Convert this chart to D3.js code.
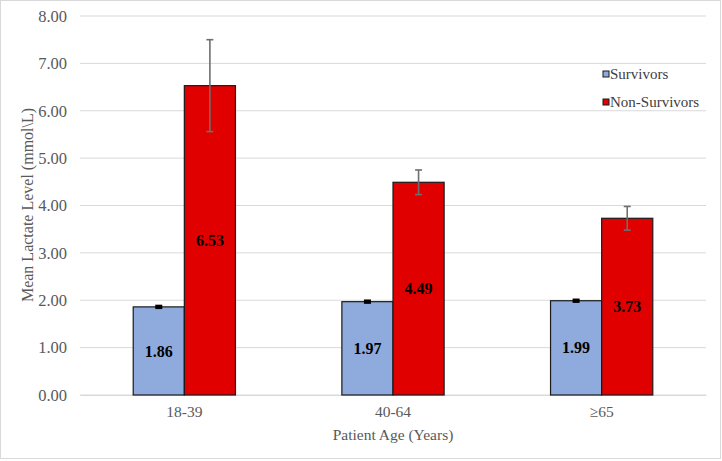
<!DOCTYPE html>
<html><head><meta charset="utf-8">
<script src="https://cdn.jsdelivr.net/npm/d3@7"></script>
<style>body{margin:0;background:#fff}svg{display:block}</style>
</head><body>
<svg id="c" width="722" height="461"></svg>
<script>
const categories = ["18-39", "40-64", "≥65"];
const seriesNames = ["Survivors", "Non-Survivors"];
const survivors = [1.86, 1.97, 1.99];
const nonSurvivors = [6.53, 4.49, 3.73];
const survivorsErr = [0.02, 0.02, 0.02];
const nonSurvivorsErr = [0.97, 0.26, 0.25];
const yTicks = [0, 1, 2, 3, 4, 5, 6, 7, 8];
const colors = ["#8faadc", "#e00000"];

const svg = d3.select("#c");
const font = "Liberation Serif, Times New Roman, serif";
svg.append("rect").attr("x",0.5).attr("y",0.5).attr("width",720).attr("height",458)
  .attr("fill","#fff").attr("stroke","#d9d9d9");

const m = {l:80, r:706, t:16, b:395};
const y = d3.scaleLinear().domain([0,8]).range([m.b, m.t]);
const x0 = d3.scaleBand().domain(categories).range([m.l, m.r]).paddingInner(0.51).paddingOuter(0.255);
const x1 = d3.scaleBand().domain(seriesNames).range([0, x0.bandwidth()]);

// gridlines
svg.append("g").selectAll("line").data(yTicks).join("line")
  .attr("x1",m.l).attr("x2",m.r).attr("y1",d=>y(d)).attr("y2",d=>y(d))
  .attr("stroke","#d9d9d9").attr("stroke-width",1);

// y axis labels
const ya = svg.append("g").attr("transform",`translate(${m.l},0)`)
  .attr("font-family",font)
  .call(d3.axisLeft(y).tickValues(yTicks).tickFormat(d3.format(".2f")).tickSize(0).tickPadding(13));
ya.attr("font-family",font);
ya.select(".domain").remove();
ya.selectAll("text").attr("font-family",font).attr("font-size",16.5).attr("fill","#595959");

// x axis
const xa = svg.append("g").attr("transform",`translate(0,${m.b})`)
  .call(d3.axisBottom(x0).tickSize(0).tickPadding(11));
xa.attr("font-family",font);
xa.select(".domain").attr("stroke","#d9d9d9");
xa.selectAll("text").attr("font-family",font).attr("font-size",15.5).attr("fill","#595959");

const data = categories.map((c,i)=>({c, vals:[
  {s:seriesNames[0], v:survivors[i], e:survivorsErr[i], k:0},
  {s:seriesNames[1], v:nonSurvivors[i], e:nonSurvivorsErr[i], k:1}]}));

const g = svg.append("g").selectAll("g").data(data).join("g")
  .attr("transform",d=>`translate(${x0(d.c)},0)`);
g.selectAll("rect").data(d=>d.vals).join("rect")
  .attr("x",d=>x1(d.s)).attr("width",x1.bandwidth())
  .attr("y",d=>y(d.v)).attr("height",d=>y(0)-y(d.v))
  .attr("fill",d=>colors[d.k]).attr("stroke","#1a1a1a").attr("stroke-width",1.2);

// error bars
const eb = g.selectAll("g.eb").data(d=>d.vals).join("g").attr("class","eb");
eb.append("line").attr("x1",d=>x1(d.s)+x1.bandwidth()/2).attr("x2",d=>x1(d.s)+x1.bandwidth()/2)
  .attr("y1",d=>y(d.v+d.e)).attr("y2",d=>y(d.v-d.e))
  .attr("stroke",d=>d.k?"#6f6f6f":"#000").attr("stroke-width",1.6);
[1,-1].forEach(sg=>{
  eb.append("line").attr("x1",d=>x1(d.s)+x1.bandwidth()/2-3.5).attr("x2",d=>x1(d.s)+x1.bandwidth()/2+3.5)
    .attr("y1",d=>y(d.v+sg*d.e)).attr("y2",d=>y(d.v+sg*d.e))
    .attr("stroke",d=>d.k?"#6f6f6f":"#000").attr("stroke-width",d=>d.k?1.6:2.5);
});

// value labels
g.selectAll("text.v").data(d=>d.vals).join("text").attr("class","v")
  .attr("x",d=>x1(d.s)+x1.bandwidth()/2).attr("y",d=>y(d.v/2))
  .attr("dy","0.35em").attr("text-anchor","middle")
  .attr("font-family",font).attr("font-size",16).attr("font-weight","bold").attr("fill","#000")
  .text(d=>d.v.toFixed(2));

// axis titles
svg.append("text").attr("transform","translate(27,205) rotate(-90)").attr("text-anchor","middle")
  .attr("dy","0.35em").attr("font-family",font).attr("font-size",16).attr("fill","#595959")
  .text("Mean Lactate Level (mmol\\L)");
svg.append("text").attr("x",(m.l+m.r)/2).attr("y",435).attr("text-anchor","middle")
  .attr("dy","0.35em").attr("font-family",font).attr("font-size",15.5).attr("fill","#595959")
  .text("Patient Age (Years)");

// legend
const lg = svg.append("g").selectAll("g").data(seriesNames).join("g")
  .attr("transform",(d,i)=>`translate(603,${74+i*28})`);
lg.append("rect").attr("x",0).attr("y",-3).attr("width",6).attr("height",6)
  .attr("fill",(d,i)=>colors[i]).attr("stroke","#1a1a1a").attr("stroke-width",1);
lg.append("text").attr("x",7).attr("dy","0.35em").attr("font-family",font).attr("font-size",15)
  .attr("fill","#404040").text(d=>d);
</script>
</body></html>
